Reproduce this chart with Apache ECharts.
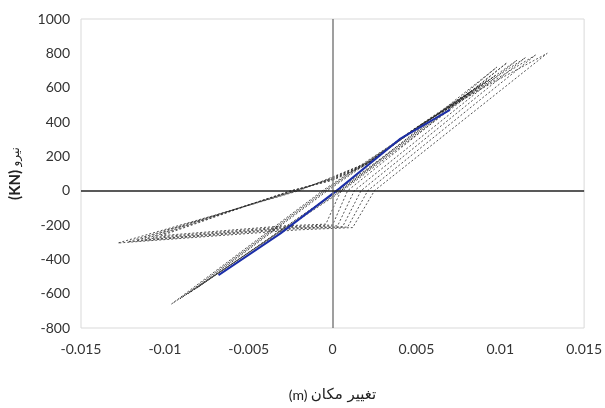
<!DOCTYPE html>
<html>
<head>
<meta charset="utf-8">
<title>hysteresis chart</title>
<script src="https://cdn.jsdelivr.net/npm/echarts@6/dist/echarts.min.js"></script>
<style>
html, body { margin: 0; padding: 0; background: #fff; }
#main { width: 605px; height: 408px; }
</style>
</head>
<body>
<div id="main"></div>
<script>
// pinched cycles: reload from (0,+) -> positive peak -> unload -> flat negative branch -> back
var loopB1 = [[0, 80], [0.0024, 175], [0.0055, 400], [0.0090, 600], [0.0128, 800], [0.0025, 0], [0.0012, -215], [-0.0020, -228], [-0.0128, -305], [-0.0055, -100], [-0.0020, 0], [0, 80]];
var loopB2 = [[0, 76], [0.0022, 168], [0.0053, 385], [0.0088, 592], [0.0121, 790], [0.0021, 0], [0.0009, -212], [-0.0022, -222], [-0.0122, -298], [-0.0052, -90], [-0.0021, 0], [0, 76]];
var loopB3 = [[0, 72], [0.0021, 160], [0.0051, 372], [0.0085, 580], [0.0115, 775], [0.0017, 0], [0.0006, -210], [-0.0024, -218], [-0.0117, -290], [-0.0050, -82], [-0.0022, 0], [0, 72]];
var loopB4 = [[0, 68], [0.0020, 152], [0.0049, 360], [0.0082, 566], [0.0110, 760], [0.0013, 0], [0.0003, -205], [-0.0025, -214], [-0.0112, -282], [-0.0048, -76], [-0.0023, 0], [0, 68]];
var loopB5 = [[0, 64], [0.0019, 146], [0.0047, 348], [0.0079, 552], [0.0104, 745], [0.0009, 0], [0.0000, -200], [-0.0027, -210], [-0.0107, -272], [-0.0046, -70], [-0.0024, 0], [0, 64]];
var loopB6 = [[0, 60], [0.0018, 140], [0.0045, 336], [0.0076, 540], [0.0098, 720], [0.0005, 0], [-0.0004, -195], [-0.0029, -205], [-0.0102, -262], [-0.0044, -64], [-0.0025, 0], [0, 60]];

// narrow steep cycles reaching about -650 kN
var loopA1 = [[0.0097, 670], [0.0006, 0], [-0.0096, -660], [-0.0006, 0], [0.0097, 670]];
var loopA2 = [[0.0092, 640], [0.0005, 0], [-0.0091, -630], [-0.0005, 0], [0.0092, 640]];
var loopA3 = [[0.0087, 610], [0.0004, 0], [-0.0086, -600], [-0.0004, 0], [0.0087, 610]];
var loopA4 = [[0.0082, 575], [0.0003, 0], [-0.0081, -568], [-0.0003, 0], [0.0082, 575]];

// solid blue branch
var blueBranch = [[0.0070, 470], [0.0040, 300], [0.0004, 12], [-0.0031, -249], [-0.0068, -492]];

var dashedLoops = [loopB1, loopB2, loopB3, loopB4, loopB5, loopB6, loopA1, loopA2, loopA3, loopA4];

var chart = echarts.init(document.getElementById('main'));

var series = [];
dashedLoops.forEach(function (pts, i) {
    series.push({
        name: 'loop' + i,
        type: 'line',
        data: pts,
        symbol: 'none',
        smooth: false,
        silent: true,
        z: 3,
        lineStyle: { color: '#2a2a2a', width: 0.8, type: [2, 2] }
    });
});
series.push({
    name: 'blue',
    type: 'line',
    data: blueBranch,
    symbol: 'none',
    silent: true,
    z: 4,
    lineStyle: { color: '#1c2fa8', width: 2 },
    markLine: {
        silent: true,
        symbol: 'none',
        label: { show: false },
        data: [
            { xAxis: 0, lineStyle: { color: '#7f7f7f', width: 1.5, type: 'solid' } },
            { yAxis: 0, lineStyle: { color: '#222', width: 1.5, type: 'solid' } }
        ]
    }
});

var option = {
    backgroundColor: '#fff',
    animation: false,
    grid: {
        left: 78, right: 19, top: 19, bottom: 73,
        show: true, borderColor: '#d9d9d9', borderWidth: 1
    },
    xAxis: {
        type: 'value',
        min: -0.015, max: 0.015, interval: 0.005,
        axisLine: { show: false, onZero: false },
        axisTick: { show: false },
        splitLine: { show: false },
        axisLabel: {
            color: '#333', fontSize: 14, fontFamily: 'Lato', margin: 14,
            formatter: function (v) { return String(Math.round(v * 1000) / 1000); }
        },
        name: '{en|(m)} {fa|تغییر مکان}',
        nameLocation: 'middle',
        nameGap: 60,
        nameTextStyle: {
            rich: {
                en: { fontSize: 14, fontFamily: 'Lato', color: '#222' },
                fa: { fontSize: 15, fontFamily: 'DejaVu Sans', color: '#222' }
            }
        }
    },
    yAxis: {
        type: 'value',
        min: -800, max: 1000, interval: 200,
        axisLine: { show: false, onZero: false },
        axisTick: { show: false },
        splitLine: { show: false },
        axisLabel: {
            color: '#333', fontSize: 14, fontFamily: 'Lato', margin: 11,
            formatter: function (v) { return String(v); }
        },
        name: '{en|(KN)} {fa|نیرو}',
        nameLocation: 'middle',
        nameRotate: 90,
        nameGap: 58,
        nameTextStyle: {
            rich: {
                en: { fontSize: 15, fontWeight: 'bold', fontFamily: 'Lato', color: '#222' },
                fa: { fontSize: 12, fontFamily: 'DejaVu Sans', color: '#222' }
            }
        }
    },
    series: series
};

chart.setOption(option);
</script>
</body>
</html>
